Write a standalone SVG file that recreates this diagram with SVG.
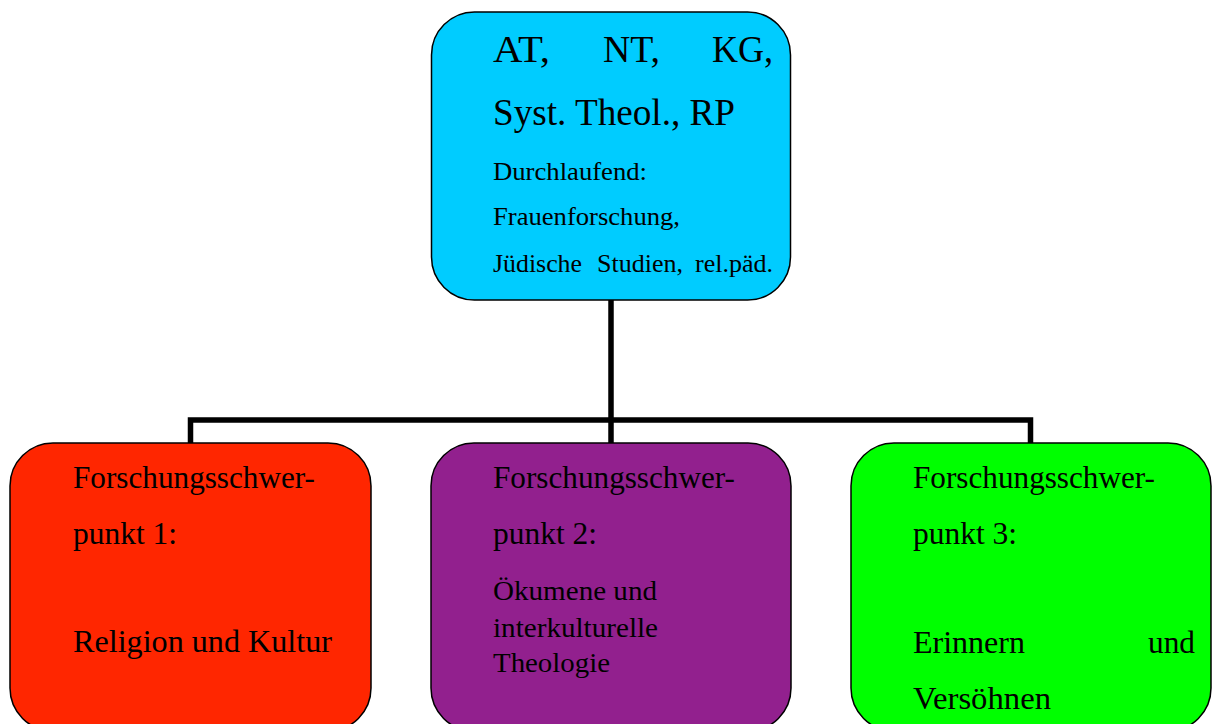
<svg xmlns="http://www.w3.org/2000/svg" width="1212" height="724" viewBox="0 0 1212 724">
  <style>
    .box { stroke: #000; stroke-width: 1.5; }
    .t { font-family: "Liberation Serif", "Times New Roman", serif; fill: #000; }
    .xl { font-size: 37px; }
    .l { font-size: 31px; }
    .m { font-size: 27px; }
    .s { font-size: 25px; }
    .conn { fill: none; stroke: #000; stroke-width: 5.5; stroke-linejoin: miter; stroke-linecap: butt; }
  </style>
  <rect width="1212" height="724" fill="#fff"/>

  <g id="connectors">
    <path class="conn" d="M611,300 V420"/>
    <path class="conn" d="M190.5,443 V420 H1030.5 V443"/>
    <path class="conn" d="M611,420 V443"/>
  </g>

  <g id="node-top">
    <rect class="box" x="431.5" y="12" width="359" height="288" rx="43" fill="#00CCFF"/>
    <text class="t xl" y="62"><tspan x="493" textLength="57" lengthAdjust="spacingAndGlyphs">AT,</tspan><tspan x="603" textLength="57" lengthAdjust="spacingAndGlyphs">NT,</tspan><tspan x="712" textLength="61" lengthAdjust="spacingAndGlyphs">KG,</tspan></text>
    <text class="t xl" x="493" y="125" textLength="242" lengthAdjust="spacingAndGlyphs">Syst. Theol., RP</text>
    <text class="t s" x="493" y="180" textLength="154" lengthAdjust="spacingAndGlyphs">Durchlaufend:</text>
    <text class="t s" x="493" y="225" textLength="187" lengthAdjust="spacingAndGlyphs">Frauenforschung,</text>
    <text class="t s" y="272"><tspan x="493" textLength="89" lengthAdjust="spacingAndGlyphs">Jüdische</tspan><tspan x="597" textLength="86" lengthAdjust="spacingAndGlyphs">Studien,</tspan><tspan x="695" textLength="78" lengthAdjust="spacingAndGlyphs">rel.päd.</tspan></text>
  </g>

  <g id="node-1">
    <rect class="box" x="10" y="443" width="361" height="288" rx="43" fill="#FF2600"/>
    <text class="t l" x="73" y="488" textLength="242" lengthAdjust="spacingAndGlyphs">Forschungsschwer-</text>
    <text class="t l" x="73" y="544" textLength="104" lengthAdjust="spacingAndGlyphs">punkt 1:</text>
    <text class="t l" x="73" y="652" textLength="259" lengthAdjust="spacingAndGlyphs">Religion und Kultur</text>
  </g>

  <g id="node-2">
    <rect class="box" x="431" y="443" width="360" height="288" rx="43" fill="#92208E"/>
    <text class="t l" x="493" y="488" textLength="242" lengthAdjust="spacingAndGlyphs">Forschungsschwer-</text>
    <text class="t l" x="493" y="544" textLength="104" lengthAdjust="spacingAndGlyphs">punkt 2:</text>
    <text class="t m" x="493" y="600" textLength="164" lengthAdjust="spacingAndGlyphs">Ökumene und</text>
    <text class="t m" x="493" y="637" textLength="165" lengthAdjust="spacingAndGlyphs">interkulturelle</text>
    <text class="t m" x="493" y="672" textLength="117" lengthAdjust="spacingAndGlyphs">Theologie</text>
  </g>

  <g id="node-3">
    <rect class="box" x="851" y="443" width="360" height="288" rx="43" fill="#00FF00"/>
    <text class="t l" x="913" y="488" textLength="242" lengthAdjust="spacingAndGlyphs">Forschungsschwer-</text>
    <text class="t l" x="913" y="544" textLength="104" lengthAdjust="spacingAndGlyphs">punkt 3:</text>
    <text class="t l" y="653"><tspan x="913" textLength="112" lengthAdjust="spacingAndGlyphs">Erinnern</tspan><tspan x="1148" textLength="47" lengthAdjust="spacingAndGlyphs">und</tspan></text>
    <text class="t l" x="913" y="709" textLength="138" lengthAdjust="spacingAndGlyphs">Versöhnen</text>
  </g>
</svg>
